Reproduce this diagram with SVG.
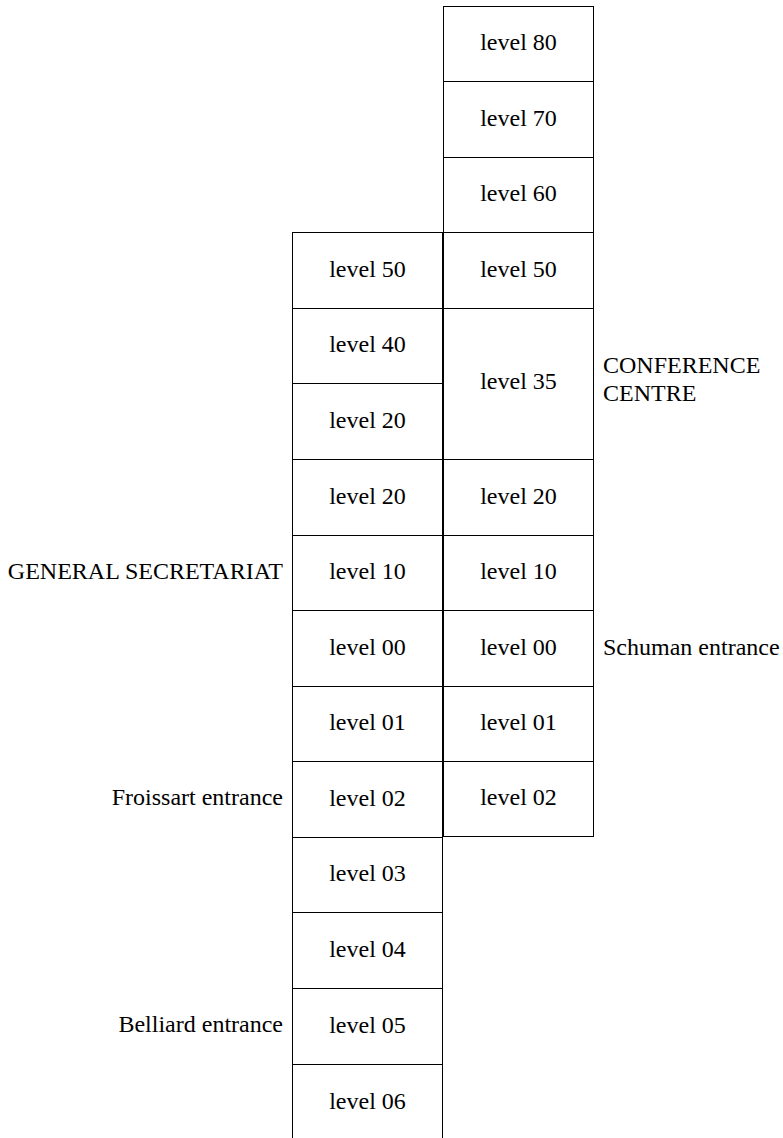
<svg xmlns="http://www.w3.org/2000/svg" width="783" height="1138" viewBox="0 0 783 1138" font-family="'Liberation Serif', 'Times New Roman', Times, serif" font-size="24">
<style>
.box{fill:#fff;stroke:#000;stroke-width:1}
text{font-family:'Liberation Serif','Times New Roman',Times,serif;font-size:24px;fill:#000}
.c{text-anchor:middle}
.e{text-anchor:end}
</style>
<rect width="783" height="1138" fill="#fff"/>
<g id="right-column">
<g id="r80"><rect class="box" x="443.5" y="6.5" width="150" height="75"/><text class="c" x="518.5" y="50">level 80</text></g>
<g id="r70"><rect class="box" x="443.5" y="81.5" width="150" height="76"/><text class="c" x="518.5" y="125.5">level 70</text></g>
<g id="r60"><rect class="box" x="443.5" y="157.5" width="150" height="75"/><text class="c" x="518.5" y="201">level 60</text></g>
<g id="r50"><rect class="box" x="443.5" y="232.5" width="150" height="76"/><text class="c" x="518.5" y="276.5">level 50</text></g>
<g id="r35"><rect class="box" x="443.5" y="308.5" width="150" height="151"/><text class="c" x="518.5" y="389">level 35</text></g>
<g id="r20"><rect class="box" x="443.5" y="459.5" width="150" height="76"/><text class="c" x="518.5" y="503.5">level 20</text></g>
<g id="r10"><rect class="box" x="443.5" y="535.5" width="150" height="75"/><text class="c" x="518.5" y="579">level 10</text></g>
<g id="r00"><rect class="box" x="443.5" y="610.5" width="150" height="76"/><text class="c" x="518.5" y="654.5">level 00</text></g>
<g id="r01"><rect class="box" x="443.5" y="686.5" width="150" height="75"/><text class="c" x="518.5" y="730">level 01</text></g>
<g id="r02"><rect class="box" x="443.5" y="761.5" width="150" height="75"/><text class="c" x="518.5" y="805">level 02</text></g>
</g>
<g id="left-column">
<g id="l50"><rect class="box" x="292.5" y="232.5" width="150" height="76"/><text class="c" x="367.5" y="276.5">level 50</text></g>
<g id="l40"><rect class="box" x="292.5" y="308.5" width="150" height="75"/><text class="c" x="367.5" y="352">level 40</text></g>
<g id="l20a"><rect class="box" x="292.5" y="383.5" width="150" height="76"/><text class="c" x="367.5" y="427.5">level 20</text></g>
<g id="l20"><rect class="box" x="292.5" y="459.5" width="150" height="76"/><text class="c" x="367.5" y="503.5">level 20</text></g>
<g id="l10"><rect class="box" x="292.5" y="535.5" width="150" height="75"/><text class="c" x="367.5" y="579">level 10</text></g>
<g id="l00"><rect class="box" x="292.5" y="610.5" width="150" height="76"/><text class="c" x="367.5" y="654.5">level 00</text></g>
<g id="l01"><rect class="box" x="292.5" y="686.5" width="150" height="75"/><text class="c" x="367.5" y="730">level 01</text></g>
<g id="l02"><rect class="box" x="292.5" y="761.5" width="150" height="76"/><text class="c" x="367.5" y="805.5">level 02</text></g>
<g id="l03"><rect class="box" x="292.5" y="837.5" width="150" height="75"/><text class="c" x="367.5" y="881">level 03</text></g>
<g id="l04"><rect class="box" x="292.5" y="912.5" width="150" height="76"/><text class="c" x="367.5" y="956.5">level 04</text></g>
<g id="l05"><rect class="box" x="292.5" y="988.5" width="150" height="76"/><text class="c" x="367.5" y="1032.5">level 05</text></g>
<g id="l06"><rect class="box" x="292.5" y="1064.5" width="150" height="76"/><text class="c" x="367.5" y="1108.5">level 06</text></g>
</g>
<g id="labels">
<text x="603" y="373">CONFERENCE</text>
<text x="603" y="401">CENTRE</text>
<text class="e" x="283" y="579">GENERAL SECRETARIAT</text>
<text x="603" y="655">Schuman entrance</text>
<text class="e" x="283" y="805">Froissart entrance</text>
<text class="e" x="283" y="1032">Belliard entrance</text>
</g>
<g id="connectors"></g>
</svg>
